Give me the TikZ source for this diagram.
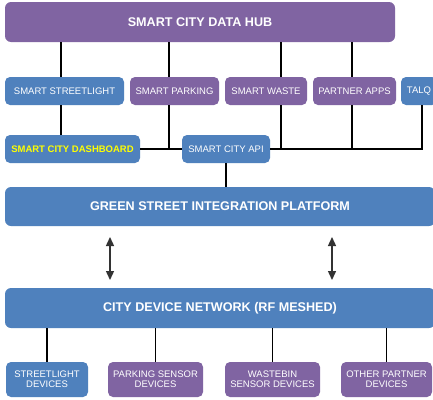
\documentclass[tikz,border=0pt]{standalone}
\usepackage{fontspec}
\setmainfont{Liberation Sans}
\usetikzlibrary{arrows.meta}
\definecolor{cblue}{HTML}{4F81BD}
\definecolor{cpurple}{HTML}{8064A2}
\definecolor{cyel}{HTML}{FFFF00}
\definecolor{arrowgray}{HTML}{333333}
\tikzset{
  box/.style={rounded corners=5pt, inner sep=0pt, text=white, align=center,
    font=\fontsize{9.5}{10}\selectfont},
  bigbox/.style={rounded corners=6pt, inner sep=0pt, text=white, align=center,
    font=\fontsize{12.6}{15}\selectfont\bfseries},
  bl/.style={fill=cblue},
  pu/.style={fill=cpurple},
  conn/.style={draw=black, line width=1.7pt},
  dbl/.style={draw=arrowgray, line width=1.4pt, {Triangle[length=9pt,width=8pt]}-{Triangle[length=9pt,width=8pt]}}
}
\begin{document}
\begin{tikzpicture}[x=1pt,y=-1pt]
\useasboundingbox (0,0) rectangle (433,399);
\clip (0,0) rectangle (433,399);
\fill[white] (0,0) rectangle (433,399);
% top hub
\node[bigbox,pu,minimum width=390pt,minimum height=40pt] (hub) at (200,22) {SMART CITY DATA HUB};
% row 2
\node[box,bl,minimum width=119pt,minimum height=28pt] (sl) at (64.5,91) {SMART STREETLIGHT};
\node[box,pu,minimum width=89pt,minimum height=28pt] (sp) at (174.5,91) {SMART PARKING};
\node[box,pu,minimum width=82pt,minimum height=28pt] (sw) at (266,91) {SMART WASTE};
\node[box,pu,minimum width=83pt,minimum height=28pt] (pa) at (354.5,91) {PARTNER APPS};
\node[box,bl,minimum width=36pt,minimum height=28pt] (talq) at (419,91) {TALQ};
% row 3
\node[box,bl,minimum width=135pt,minimum height=28pt,text=cyel,font=\fontsize{9.5}{10}\selectfont\bfseries] (dash) at (72.5,149) {SMART CITY DASHBOARD};
\node[box,bl,minimum width=88pt,minimum height=28pt] (api) at (226,149) {SMART CITY API};
% platform and network
\node[bigbox,bl,minimum width=430pt,minimum height=39pt] (plat) at (220,206.5) {GREEN STREET INTEGRATION PLATFORM};
\node[bigbox,bl,minimum width=430pt,minimum height=40pt] (net) at (220,308) {CITY DEVICE NETWORK (RF MESHED)};
% bottom devices
\node[box,bl,minimum width=82pt,minimum height=35pt] (d1) at (47,379.5) {STREETLIGHT\\DEVICES};
\node[box,pu,minimum width=95pt,minimum height=35pt] (d2) at (155.5,379.5) {PARKING SENSOR\\DEVICES};
\node[box,pu,minimum width=95pt,minimum height=35pt] (d3) at (272.5,379.5) {WASTEBIN\\SENSOR DEVICES};
\node[box,pu,minimum width=91pt,minimum height=35pt] (d4) at (386.5,379.5) {OTHER PARTNER\\DEVICES};
% hub to row 2
\draw[conn] (hub.south -| 61,0) -- (sl.north -| 61,0);
\draw[conn] (hub.south -| 169,0) -- (sp.north -| 169,0);
\draw[conn] (hub.south -| 281,0) -- (sw.north -| 281,0);
\draw[conn] (hub.south -| 352,0) -- (pa.north -| 352,0);
% row 2 to row 3
\draw[conn] (sl.south -| 61,0) -- (dash.north -| 61,0);
\draw[conn] (dash.east) -- (api.west);
\draw[conn] (sp.south -| 169,0) -- (api.west -| 169,0);
\draw[conn] (api.east) -- (api.east -| 422,0) -- (talq.south -| 422,0);
\draw[conn] (sw.south -| 281,0) -- (api.east -| 281,0);
\draw[conn] (pa.south -| 352,0) -- (api.east -| 352,0);
% api to platform
\draw[conn] (api.south) -- (plat.north -| api.south);
% arrows
\coordinate (a1t) at (110,237);
\coordinate (a1b) at (110,280);
\coordinate (a2t) at (332,237);
\coordinate (a2b) at (332,280);
\draw[dbl] (a1t) -- (a1b);
\draw[dbl] (a2t) -- (a2b);
% network to devices
\draw[conn] (net.south -| d1.north) -- (d1.north);
\draw[conn] (net.south -| d2.north) -- (d2.north);
\draw[conn] (net.south -| d3.north) -- (d3.north);
\draw[conn] (net.south -| d4.north) -- (d4.north);
\end{tikzpicture}
\end{document}
